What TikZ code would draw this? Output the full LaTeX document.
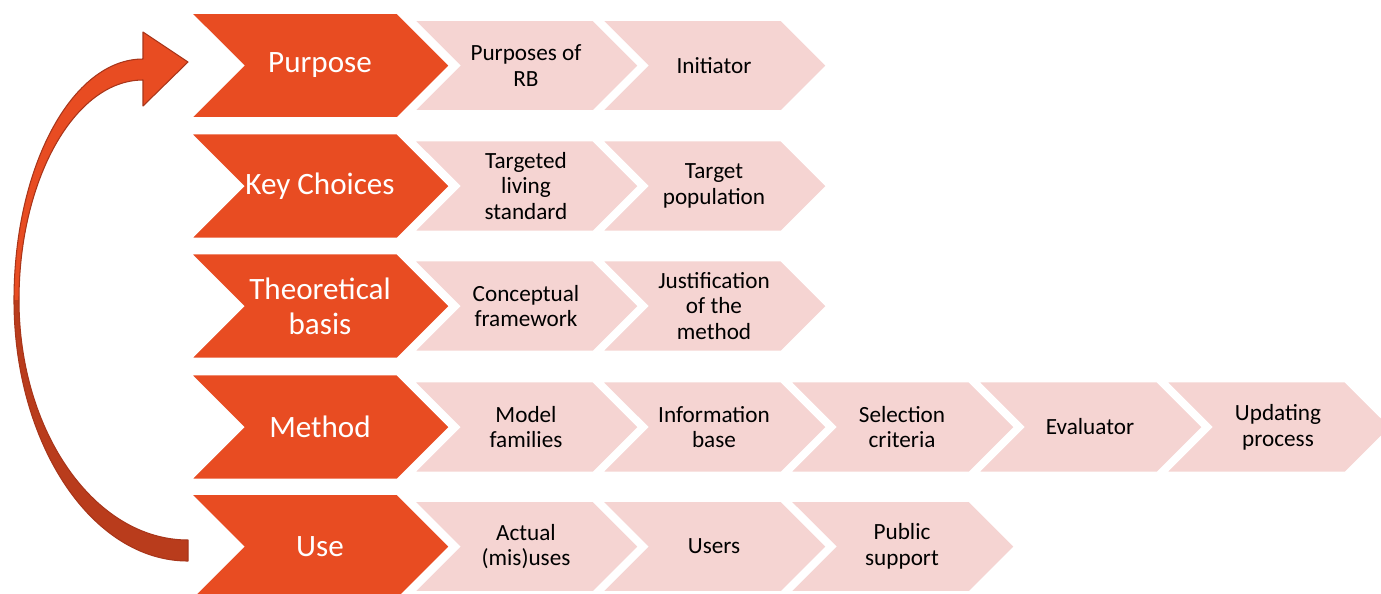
\documentclass[tikz,border=0pt]{standalone}
\usepackage{fontspec}
\setmainfont{Carlito}
\usetikzlibrary{shapes.symbols}
\definecolor{stageorange}{HTML}{E84C22}
\definecolor{itempink}{HTML}{F5D4D2}
\definecolor{loopback}{HTML}{B93C1C}
\definecolor{loopline}{HTML}{A8351A}

\begin{document}
\begin{tikzpicture}[
    x=0.02cm, y=-0.02cm,
    stage/.style={signal, signal to=east, signal from=west, signal pointer angle=90, fill=stageorange, draw=white, line width=1.6pt, minimum width=5.22cm, minimum height=2.12cm, inner sep=0pt, text=white, align=center, font=\fontsize{17.7}{19.8}\selectfont},
    item/.style={signal, signal to=east, signal from=west, signal pointer angle=90, fill=itempink, draw=white, line width=1.6pt, minimum width=4.54cm, minimum height=1.84cm, inner sep=0pt, align=center, font=\fontsize{13.2}{14.7}\selectfont},
    loopedge/.style={draw=loopline, line width=0.6pt, line join=round}
]
\useasboundingbox (0,0) rectangle (1381,593);

\node[item] (p1) at (526, 65.5) {Purposes of\\RB};
\node[item] (p2) at (714, 65.5) {Initiator};
\node[stage] (purpose) at (320, 65.5) {Purpose};

\node[item] (k1) at (526, 186) {Targeted\\living\\standard};
\node[item] (k2) at (714, 186) {Target\\population};
\node[stage] (keychoices) at (320, 186) {Key Choices};

\node[item] (t1) at (526, 306) {Conceptual\\framework};
\node[item] (t2) at (714, 306) {Justification\\of the\\method};
\node[stage] (theory) at (320, 306) {Theoretical\\basis};

\node[item] (m1) at (526, 427) {Model\\families};
\node[item] (m2) at (714, 427) {Information\\base};
\node[item] (m3) at (902, 427) {Selection\\criteria};
\node[item] (m4) at (1090, 427) {Evaluator};
\node[item] (m5) at (1278, 427) {Updating\\process};
\node[stage] (method) at (320, 427) {Method};

\node[item] (u1) at (526, 546.5) {Actual\\(mis)uses};
\node[item] (u2) at (714, 546.5) {Users};
\node[item] (u3) at (902, 546.5) {Public\\support};
\node[stage] (use) at (320, 546.5) {Use};

% loop back from Use to Purpose
\fill[stageorange] (143,59) .. controls (72,59) and (14,167) .. (14,300)
    -- (19,300) .. controls (19,179) and (75,80) .. (143,80)
    -- (143,106) -- (188,62) -- (143,32) -- cycle;
\fill[loopback] (14,300) .. controls (14,444) and (92,561) .. (188,561)
    -- (188,540) .. controls (95,540) and (19,432) .. (19,300) -- cycle;
\path[loopedge] (143,59) .. controls (72,59) and (14,167) .. (14,300)
    .. controls (14,444) and (92,561) .. (188,561)
    -- (188,540) .. controls (95,540) and (19,432) .. (19,300)
    .. controls (19,179) and (75,80) .. (143,80)
    -- (143,106) -- (188,62) -- (143,32) -- cycle;

\end{tikzpicture}
\end{document}
